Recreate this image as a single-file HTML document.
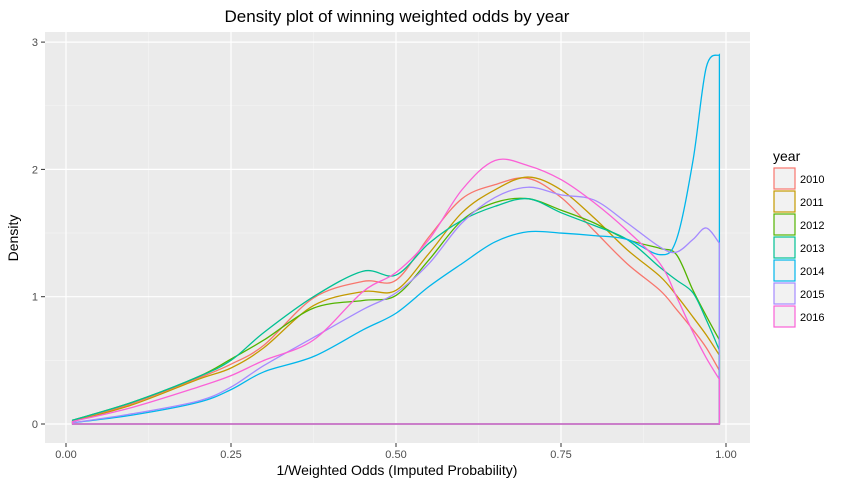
<!DOCTYPE html>
<html><head><meta charset="utf-8"><style>
body{margin:0;background:#fff;font-family:"Liberation Sans",sans-serif}
</style></head><body>
<svg id="chart" width="842" height="487" xmlns="http://www.w3.org/2000/svg" font-family="Liberation Sans, sans-serif">
<text x="397" y="22" text-anchor="middle" font-size="17" fill="#000">Density plot of winning weighted odds by year</text>
<rect x="45" y="32" width="705" height="411" fill="#ebebeb"/>
<g id="grid"></g>
<g id="series"></g>
<g id="axes"></g>
<text x="397" y="475" text-anchor="middle" font-size="14">1/Weighted Odds (Imputed Probability)</text>
<text transform="translate(18,238) rotate(-90)" text-anchor="middle" font-size="14">Density</text>
<g id="legend"></g>
</svg>
<script>
const years=["2010","2011","2012","2013","2014","2015","2016"];
const colors=["#F8766D","#C49A00","#53B400","#00C094","#00B6EB","#A58AFF","#FB61D7"];
const xs=[0.01,0.1,0.2,0.25,0.3,0.375,0.45,0.5,0.55,0.6,0.65,0.7,0.75,0.8,0.85,0.9,0.925,0.95,0.97,0.99];
const d2010=[0.02,0.16,0.36,0.47,0.62,0.99,1.12,1.13,1.47,1.77,1.88,1.93,1.78,1.52,1.26,1.05,0.9,0.74,0.6,0.42];
const d2011=[0.02,0.15,0.35,0.44,0.6,0.93,1.04,1.05,1.34,1.66,1.84,1.94,1.84,1.62,1.37,1.16,1.01,0.84,0.7,0.54];
const d2012=[0.03,0.17,0.37,0.51,0.66,0.91,0.97,1.01,1.29,1.6,1.74,1.77,1.68,1.58,1.45,1.38,1.33,1.05,0.85,0.66];
const d2013=[0.03,0.17,0.37,0.5,0.72,1.0,1.2,1.17,1.42,1.6,1.71,1.77,1.66,1.56,1.45,1.23,1.13,1.03,0.82,0.58];
const d2014=[0.01,0.07,0.17,0.27,0.41,0.53,0.74,0.87,1.08,1.26,1.43,1.51,1.5,1.48,1.45,1.33,1.45,2.07,2.8,2.9];
const d2015=[0.01,0.08,0.18,0.29,0.46,0.68,0.9,1.03,1.26,1.58,1.78,1.86,1.8,1.76,1.58,1.39,1.35,1.45,1.54,1.42];
const d2016=[0.02,0.13,0.29,0.38,0.5,0.66,1.04,1.19,1.45,1.84,2.07,2.03,1.92,1.74,1.52,1.26,1.0,0.72,0.52,0.35];
const series=[d2010,d2011,d2012,d2013,d2014,d2015,d2016];
const xTicks=[0,0.25,0.5,0.75,1];
const xTickLabels=["0.00","0.25","0.50","0.75","1.00"];
const yTicks=[0,1,2,3];

const NS="http://www.w3.org/2000/svg";
const sx=v=>66+660*v;
const sy=v=>424-127.3*v;
function mk(tag,attrs,parent){const e=document.createElementNS(NS,tag);for(const k in attrs)e.setAttribute(k,attrs[k]);parent.appendChild(e);return e;}
const grid=document.getElementById('grid');
for(let v=0.125;v<1.1;v+=0.25){
  const l=mk('line',{x1:sx(v),x2:sx(v),y1:32,y2:443,stroke:'#f5f5f5','stroke-width':0.6},grid);
  
  
}
for(let v=0.5;v<3.1;v+=1){
  const l=mk('line',{x1:45,x2:750,y1:sy(v),y2:sy(v),stroke:'#f5f5f5','stroke-width':0.6},grid);
  
  
}
const axes=document.getElementById('axes');
xTicks.forEach((v,i)=>{
  const l=mk('line',{x1:sx(v),x2:sx(v),y1:32,y2:443,stroke:'#fff','stroke-width':1.2},grid);
  
  
  const t=mk('line',{x1:sx(v),x2:sx(v),y1:443,y2:447,stroke:'#333','stroke-width':1},axes);
  
  
  const tx=mk('text',{x:sx(v),y:458,'text-anchor':'middle','font-size':11,fill:'#4d4d4d'},axes);
  tx.textContent=xTickLabels[i];
  
  
});
yTicks.forEach(v=>{
  const l=mk('line',{x1:45,x2:750,y1:sy(v),y2:sy(v),stroke:'#fff','stroke-width':1.2},grid);
  
  
  const t=mk('line',{x1:41,x2:45,y1:sy(v),y2:sy(v),stroke:'#333','stroke-width':1},axes);
  
  
  const tx=mk('text',{x:38,y:sy(v)+4,'text-anchor':'end','font-size':11,fill:'#4d4d4d'},axes);
  tx.textContent=String(v);
  
  
});
function smooth(pts){
  let d='M'+pts[0][0]+','+pts[0][1];
  for(let i=0;i<pts.length-1;i++){
    const p0=pts[i-1]||pts[i],p1=pts[i],p2=pts[i+1],p3=pts[i+2]||p2;
    const c1=[p1[0]+(p2[0]-p0[0])/6,p1[1]+(p2[1]-p0[1])/6];
    const c2=[p2[0]-(p3[0]-p1[0])/6,p2[1]-(p3[1]-p1[1])/6];
    d+=' C'+c1[0]+','+c1[1]+' '+c2[0]+','+c2[1]+' '+p2[0]+','+p2[1];
  }
  return d;
}
const sg=document.getElementById('series');
series.forEach((arr,k)=>{
  const pts=xs.map((x,i)=>[sx(x),sy(arr[i])]);
  let d='M'+sx(xs[0])+','+sy(0)+' L'+pts[0][0]+','+pts[0][1]+smooth(pts).replace(/^M[^ C]+/,'');
  d+=' L'+sx(xs[xs.length-1])+','+sy(0)+' Z';
  const p=mk('path',{d:d,fill:'none',stroke:colors[k],'stroke-width':1.3},sg);
  
  
});
const lg=document.getElementById('legend');
const lt=mk('text',{x:773,y:161,'font-size':14},lg);
lt.textContent='year';


years.forEach((y,k)=>{
  const g=mk('g',{},lg);
  
  
  mk('rect',{x:774,y:168+k*23,width:21,height:21,fill:'#f2f2f2',stroke:colors[k],'stroke-width':1.2},g);
  const t=mk('text',{x:800,y:183+k*23,'font-size':11,fill:'#000'},g);
  t.textContent=y;
});
</script>
</body></html>
